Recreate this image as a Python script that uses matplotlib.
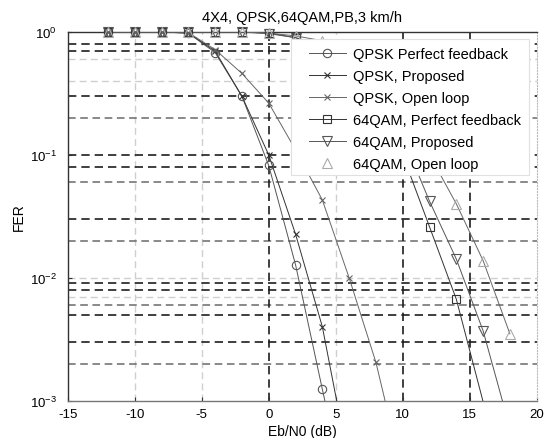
import matplotlib
matplotlib.use('Agg')
import matplotlib.pyplot as plt
from matplotlib.ticker import LogLocator, NullFormatter
from matplotlib.lines import Line2D
from matplotlib.patches import Rectangle

plt.rcParams['font.family'] = ['Liberation Sans', 'DejaVu Sans']
plt.rcParams['mathtext.fontset'] = 'custom'
plt.rcParams['mathtext.rm'] = 'Liberation Sans'
plt.rcParams['mathtext.it'] = 'Liberation Sans:italic'
plt.rcParams['axes.unicode_minus'] = False

# ---- data ----
snr = [-12, -10, -8, -6, -4, -2, 0, 2, 4, 6, 8, 10, 12, 14, 16, 18]
qpsk_perfect = [1, 1, 1, 0.98, 0.68, 0.30, 0.082, 0.0128, 0.00124, 1.3e-4]
qpsk_proposed = [1, 1, 1, 0.98, 0.70, 0.30, 0.10, 0.0227, 0.004, 3e-4]
qpsk_open = [1, 1, 1, 0.99, 0.72, 0.46, 0.264, 0.11, 0.043, 0.01, 0.00205, 2.5e-4]
qam_perfect = [1, 1, 1, 1, 1, 1, 0.98, 0.90, 0.72, 0.45, 0.22, 0.10, 0.026, 0.0067, 0.00098]
qam_proposed = [1, 1, 1, 1, 1, 1, 0.97, 0.90, 0.78, 0.55, 0.30, 0.14, 0.042, 0.0142, 0.0037, 6e-4]
qam_open = [1, 1, 1, 1, 1, 1, 0.98, 0.93, 0.85, 0.68, 0.45, 0.25, 0.10, 0.04, 0.0138, 0.0035]

labels = ['QPSK Perfect feedback', 'QPSK, Proposed', 'QPSK, Open loop',
          '64QAM, Perfect feedback', '64QAM, Proposed', '64QAM, Open loop']
title = '4X4, QPSK,64QAM,PB,3 km/h'
xlabel = 'Eb/N0 (dB)'
ylabel = 'FER'
xticks = [-15, -10, -5, 0, 5, 10, 15, 20]

# grid appearance as seen in the (scanned) reference
hgrid_dark = [0.8, 0.7, 0.3, 0.1, 0.08, 0.03, 0.009, 0.008, 0.005, 0.003]
hgrid_mid = [0.2, 0.06, 0.02, 0.006, 0.002]
hgrid_light = [0.6, 0.4, 0.01, 0.007]
vgrid_dark = [0, 10, 15]
vgrid_light = [-10, -5, 5]

fig = plt.figure(figsize=(5.52, 4.39), dpi=100)
ax = fig.add_axes([0.1227, 0.085, 0.8496, 0.8398])
ax.set_yscale('log')
ax.set_xlim(-15, 20)
ax.set_ylim(1e-3, 1)

dash = (0, (5, 3))
for v in hgrid_light:
    ax.axhline(v, color='#cfcfcf', lw=1.0, ls=dash, zorder=1)
for v in vgrid_light:
    ax.axvline(v, color='#cfcfcf', lw=1.0, ls=dash, zorder=1)
for v in hgrid_mid:
    ax.axhline(v, color='#6a6a6a', lw=1.1, ls=dash, zorder=1)
for v in hgrid_dark:
    ax.axhline(v, color='#1e1e1e', lw=1.2, ls=dash, zorder=1)
for v in vgrid_dark:
    ax.axvline(v, color='#1e1e1e', lw=1.2, ls=dash, zorder=1)

series = [
    (qpsk_perfect, dict(color='#555555', marker='o', ms=6), '#555555'),
    (qpsk_proposed, dict(color='#333333', marker='x', ms=4.5), '#333333'),
    (qpsk_open, dict(color='#666666', marker='x', ms=4.5), '#666666'),
    (qam_perfect, dict(color='#333333', marker='s', ms=5.5), '#333333'),
    (qam_proposed, dict(color='#555555', marker='v', ms=7), '#555555'),
    (qam_open, dict(color='#aaaaaa', marker='^', ms=7), '#666666'),
]

handles = []
for i, (vals, st, linecol) in enumerate(series):
    xs = snr[:len(vals)]
    ax.plot(xs, vals, color=linecol, lw=0.7, zorder=3)
    inx = [x for x, v in zip(xs, vals) if v >= 1e-3]
    inv = [v for v in vals if v >= 1e-3]
    ax.plot(inx, inv, ls='none', mfc='none', mew=0.8, zorder=4, clip_on=False, **st)
    legline = 'none' if i == 5 else '-'
    handles.append(Line2D([], [], ls=legline, lw=0.7, mfc='none', mew=0.8,
                          label=labels[i], **st))

ax.set_xticks(xticks)
ax.set_xticklabels([str(t) for t in xticks])
ax.yaxis.set_major_locator(LogLocator(base=10, numticks=10))
ax.yaxis.set_minor_locator(LogLocator(base=10, subs=range(2, 10), numticks=20))
ax.yaxis.set_minor_formatter(NullFormatter())
ax.tick_params(axis='both', which='both', direction='in', labelsize=9.5, color='#333333')
ax.tick_params(axis='both', which='major', length=3)
ax.tick_params(axis='y', which='minor', length=0)
ax.tick_params(axis='y', which='major', pad=8)
ax.tick_params(axis='x', which='major', pad=5)

for s in ['left', 'top']:
    ax.spines[s].set_color('#333333')
    ax.spines[s].set_linewidth(1.0)
ax.spines['bottom'].set_color('#777777')
ax.spines['bottom'].set_linewidth(1.0)
ax.spines['right'].set_color('#bbbbbb')
ax.spines['right'].set_linestyle(':')

ax.set_title(title, fontsize=10.5, pad=8)
ax.set_xlabel(xlabel, fontsize=10, labelpad=3)
ax.set_ylabel(ylabel, fontsize=10, labelpad=3)

# legend box (white, light edge) and entries
box = Rectangle((0.476, 0.612), 0.5076, 0.369, transform=ax.transAxes,
                facecolor='white', edgecolor='#e0e0e0', lw=0.8, zorder=5)
ax.add_patch(box)
leg = ax.legend(handles=handles, loc='upper left',
                bbox_to_anchor=(0.5145, 0.959), borderaxespad=0,
                fontsize=10.5, frameon=False,
                handlelength=2.53, handletextpad=0.46, labelspacing=0.55,
                borderpad=0.0)
leg.set_zorder(6)

fig.savefig('out.png', dpi=100)
